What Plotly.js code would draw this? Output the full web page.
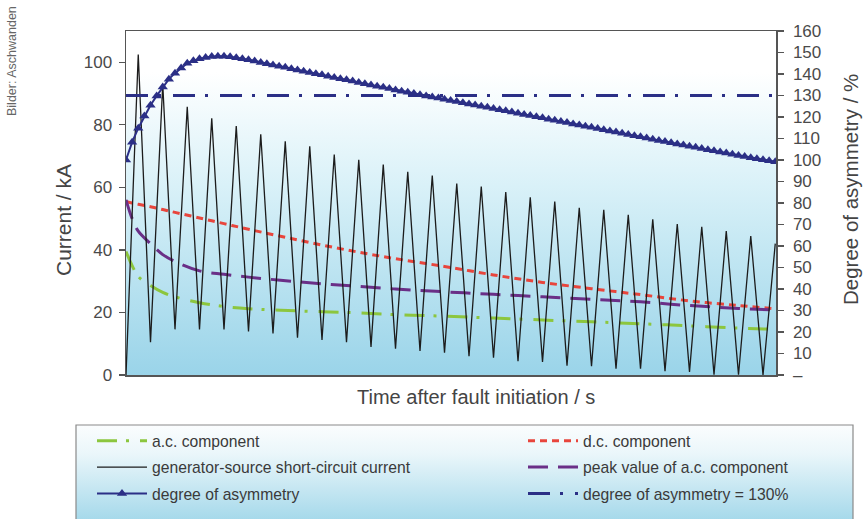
<!DOCTYPE html>
<html>
<head>
<meta charset="utf-8">
<script src="https://cdn.plot.ly/plotly-3.0.1.min.js"></script>
<style>html,body{margin:0;padding:0;background:#fff;}#chart{width:863px;height:519px;}</style>
</head>
<body>
<div id="chart"></div>
<script>
// ---- Data ----
// generator-source short-circuit current: alternating peak / trough values (kA), one value each half cycle (10 ms)
var genCurrent = [0, 102.5, 10.5, 93, 14.6, 85.8, 14.6, 82.1, 14.6, 79.6, 13.9, 77.0, 13.3, 74.7, 11.9, 73.1,
  11.2, 70.5, 10.5, 68.8, 9.0, 67.3, 8.4, 65.0, 7.7, 63.8, 7.1, 61.2, 6.0, 60.3, 5.5, 58.5, 4.4, 56.8, 4.2,
  55.5, 3.0, 53.5, 2.8, 52.8, 2.0, 51.2, 2.0, 49.8, 1.2, 48.3, 1.0, 47.4, 0.1, 46.0, 0.1, 44.4, 0, 42];
var genStep = 0.01; // s

// component curves, sampled at these times (s)
var compTime = [0, 0.005, 0.01, 0.02, 0.03, 0.04, 0.06, 0.08, 0.10, 0.14, 0.18, 0.22, 0.26, 0.30, 0.34, 0.38, 0.42, 0.46, 0.50, 0.53];
var dcComponent = [55.5, 55.0, 54.6, 53.8, 52.9, 52.0, 50.2, 48.4, 46.6, 43.2, 40.0, 37.2, 34.7, 32.0, 29.6, 27.6, 25.7, 23.7, 22.2, 21.2];
var acPeak = [56, 50, 46, 42, 38.5, 36.3, 33.3, 32.2, 31.3, 29.8, 28.6, 27.5, 26.6, 25.8, 25.0, 24.2, 23.4, 22.2, 21.3, 20.8];
var acComponent = [39.5, 35.0, 31.5, 28.6, 26.4, 25.0, 23.1, 21.9, 21.2, 20.5, 20.0, 19.3, 18.8, 18.2, 17.6, 17.0, 16.4, 15.7, 15.0, 14.6];

// degree of asymmetry (%), one value every 5 ms
var asymStep = 0.005;
var asymmetry = [100.0, 108.3, 114.8, 120.5, 125.5, 129.8, 134.0, 137.6, 140.4, 142.8,
  145.0, 146.2, 147.1, 147.7, 148.1, 148.3, 148.3, 148.0, 147.6, 147.1,
  146.6, 146.0, 145.4, 144.8, 144.2, 143.6, 143.1, 142.5, 141.9, 141.3,
  140.7, 140.1, 139.6, 139.0, 138.4, 137.8, 137.3, 136.7, 136.1, 135.5,
  134.9, 134.3, 133.8, 133.2, 132.6, 132.0, 131.5, 130.9, 130.4, 129.8,
  129.3, 128.8, 128.2, 127.7, 127.2, 126.6, 126.1, 125.6, 125.0, 124.5,
  124.0, 123.4, 122.9, 122.3, 121.8, 121.2, 120.7, 120.1, 119.6, 119.0,
  118.5, 117.9, 117.4, 116.8, 116.3, 115.7, 115.2, 114.6, 114.1, 113.5,
  113.0, 112.4, 111.9, 111.3, 110.8, 110.2, 109.7, 109.1, 108.6, 108.0,
  107.5, 107.0, 106.4, 105.9, 105.3, 104.8, 104.3, 103.7, 103.2, 102.7,
  102.1, 101.6, 101.1, 100.6, 100.1, 99.6, 99.2];

var limitTime = [0, 0.5306];
var limitValue = [130, 130];

var timeRange = [0, 0.5306];
var leftTicks = [0, 20, 40, 60, 80, 100];
var rightTicks = [0, 10, 20, 30, 40, 50, 60, 70, 80, 90, 100, 110, 120, 130, 140, 150, 160];
var rightTickText = ['\u2013', '10', '20', '30', '40', '50', '60', '70', '80', '90', '100', '110', '120', '130', '140', '150', '160'];

var names = {
  ac: 'a.c. component',
  dc: 'd.c. component',
  gen: 'generator-source short-circuit current',
  peak: 'peak value of a.c. component',
  asym: 'degree of asymmetry',
  lim: 'degree of asymmetry = 130%'
};

// ---- build ----
var genTime = genCurrent.map(function (_, i) { return +(i * genStep).toFixed(4); });
var asymTime = asymmetry.map(function (_, i) { return +(i * asymStep).toFixed(4); });

var FONT = 'Liberation Sans, Arial, Helvetica, sans-serif';
var navy = '#2b2f86';

var traces = [
  {x: compTime, y: acComponent, name: names.ac, mode: 'lines', line: {color: '#8cc63e', width: 3, dash: '20px,9px,3px,11px', shape: 'spline'}, legend: 'legend', legendgroup: 'a', legendrank: 1},
  {x: compTime, y: dcComponent, name: names.dc, mode: 'lines', line: {color: '#e8453c', width: 3, dash: '7px,5px', shape: 'spline'}, legend: 'legend2', legendgroup: 'b', legendrank: 1},
  {x: compTime, y: acPeak, name: names.peak, mode: 'lines', line: {color: '#6a2f87', width: 3, dash: '20px,10px', shape: 'spline'}, legend: 'legend2', legendgroup: 'c', legendrank: 2},
  {x: genTime, y: genCurrent, name: names.gen, mode: 'lines', line: {color: '#1c1c1c', width: 1.3}, legend: 'legend', legendgroup: 'd', legendrank: 2},
  {x: limitTime, y: limitValue, name: names.lim, yaxis: 'y2', mode: 'lines', line: {color: navy, width: 3, dash: '22px,10px,3px,12px'}, legend: 'legend2', legendgroup: 'e', legendrank: 3},
  {x: asymTime, y: asymmetry, name: names.asym, yaxis: 'y2', mode: 'lines+markers', line: {color: navy, width: 2}, marker: {symbol: 'triangle-up', size: 9, color: navy}, legend: 'legend', legendgroup: 'f', legendrank: 3}
];

function gradientURI(stops) {
  var s = '<svg xmlns="http://www.w3.org/2000/svg" width="100" height="100" viewBox="0 0 100 100" preserveAspectRatio="none">' +
    '<defs><linearGradient id="g" x1="0" y1="0" x2="0" y2="1">' +
    stops.map(function (st) { return '<stop offset="' + st[0] + '" stop-color="' + st[1] + '"/>'; }).join('') +
    '</linearGradient></defs><rect x="0" y="0" width="100" height="100" fill="url(#g)"/></svg>';
  return 'data:image/svg+xml;charset=utf-8,' + encodeURIComponent(s);
}

var L = 126, R = 776, T = 31, B = 375, W = 863, H = 519;
function px(x) { return (x - L) / (R - L); }
function py(y) { return (B - y) / (B - T); }

var legendCommon = {
  orientation: 'v', bgcolor: 'rgba(0,0,0,0)', borderwidth: 0,
  font: {family: FONT, size: 15.7, color: '#3a3a3a'},
  itemwidth: 50, tracegroupgap: 3, traceorder: 'grouped', xanchor: 'left', yanchor: 'top'
};

var layout = {
  width: W, height: H,
  margin: {l: L, r: W - R, t: T, b: H - B, pad: 0, autoexpand: false},
  paper_bgcolor: '#ffffff',
  plot_bgcolor: 'rgba(0,0,0,0)',
  font: {family: FONT, color: '#444'},
  showlegend: true,
  legend: Object.assign({}, legendCommon, {x: px(92), y: py(424)}),
  legend2: Object.assign({}, legendCommon, {x: px(523), y: py(424)}),
  xaxis: {range: timeRange, showticklabels: false, ticks: '', showgrid: false, zeroline: false,
    showline: true, mirror: true, linecolor: '#555', linewidth: 1.5},
  yaxis: {range: [0, 110], tickvals: leftTicks, ticks: 'outside', ticklen: 6, tickcolor: '#555', tickwidth: 1.2,
    showgrid: false, zeroline: false, showline: true, linecolor: '#555', linewidth: 1.5,
    tickfont: {family: FONT, size: 17, color: '#4a4a4a'}, ticklabelstandoff: 3},
  yaxis2: {range: [0, 160], overlaying: 'y', side: 'right', tickvals: rightTicks, ticktext: rightTickText,
    ticks: 'outside', ticklen: 6, tickcolor: '#555', tickwidth: 1.2, showgrid: false, zeroline: false,
    showline: true, linecolor: '#555', linewidth: 1.5,
    tickfont: {family: FONT, size: 17, color: '#4a4a4a'}, ticklabelstandoff: 6},
  images: [
    {source: gradientURI([[0, '#ffffff'], [0.12, '#ffffff'], [0.45, '#d9f1f8'], [1, '#9ad4e9']]),
      xref: 'paper', yref: 'paper', x: 0, y: 1, sizex: 1, sizey: 1, xanchor: 'left', yanchor: 'top', sizing: 'stretch', layer: 'below'},
    {source: gradientURI([[0, '#fbfdfe'], [0.3, '#eaf6fa'], [1, '#a3d8ea']]),
      xref: 'paper', yref: 'paper', x: px(76), y: py(425), sizex: px(853) - px(76), sizey: py(425) - py(522),
      xanchor: 'left', yanchor: 'top', sizing: 'stretch', layer: 'below'}
  ],
  shapes: [
    {type: 'rect', xref: 'paper', yref: 'paper', x0: px(76), x1: px(853), y0: py(425), y1: py(530),
      line: {color: '#8a8a8a', width: 1.2}, fillcolor: 'rgba(0,0,0,0)', layer: 'below'}
  ],
  annotations: [
    {text: 'Current / kA', xref: 'paper', yref: 'paper', x: px(63), y: py(220), textangle: -90, showarrow: false,
      font: {family: FONT, size: 21, color: '#444'}, xanchor: 'center', yanchor: 'middle'},
    {text: 'Degree of asymmetry / %', xref: 'paper', yref: 'paper', x: px(850), y: py(190), textangle: -90, showarrow: false,
      font: {family: FONT, size: 20.5, color: '#444'}, xanchor: 'center', yanchor: 'middle'},
    {text: 'Time after fault initiation / s', xref: 'paper', yref: 'paper', x: px(476), y: py(397), showarrow: false,
      font: {family: FONT, size: 20, color: '#444'}, xanchor: 'center', yanchor: 'middle'},
    {text: 'Bilder: Aschwanden', xref: 'paper', yref: 'paper', x: px(12), y: py(61), textangle: -90, showarrow: false,
      font: {family: FONT, size: 12.5, color: '#666'}, xanchor: 'center', yanchor: 'middle'}
  ]
};

Plotly.newPlot('chart', traces, layout, {displayModeBar: false, staticPlot: true});
</script>
</body>
</html>
